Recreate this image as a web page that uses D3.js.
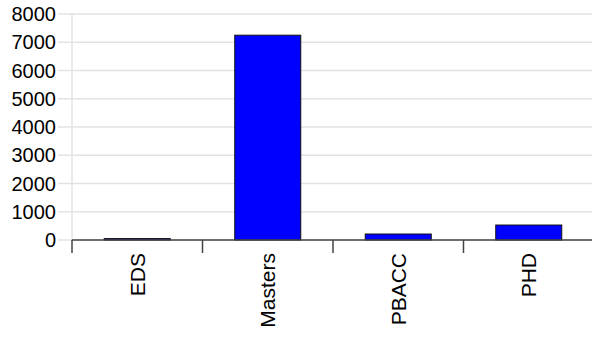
<!DOCTYPE html>
<html><head><meta charset="utf-8">
<script src="https://cdn.jsdelivr.net/npm/d3@7"></script>
<style>body{margin:0;background:#fff}svg{display:block}</style>
</head><body>
<script>
const categories = ["EDS", "Masters", "PBACC", "PHD"];
const values = [50, 7250, 212, 530];
const yTicks = [0, 1000, 2000, 3000, 4000, 5000, 6000, 7000, 8000];

(function () {
const W = 592, H = 337;
const mLeft = 72, mRight = 594, mTop = 14, mBottom = 240;
const svg = d3.select("body").append("svg").attr("width", W).attr("height", H);

const x = d3.scaleBand().domain(categories).range([mLeft, mRight]).paddingInner(0).paddingOuter(0);
const y = d3.scaleLinear().domain([0, 8000]).range([mBottom, mTop]);

// horizontal grid + y ticks
svg.append("g").selectAll("line").data(yTicks).join("line")
  .attr("x1", 58).attr("x2", W)
  .attr("y1", d => y(d)).attr("y2", d => y(d))
  .attr("stroke", "#e3e3e3").attr("stroke-width", 1.5);
// vertical grid line at left
svg.append("line").attr("x1", mLeft).attr("x2", mLeft).attr("y1", y(8000)).attr("y2", mBottom)
  .attr("stroke", "#e3e3e3").attr("stroke-width", 1.5);

svg.append("g").selectAll("text").data(yTicks).join("text")
  .attr("x", 56).attr("y", d => y(d)).attr("dy", "0.35em")
  .attr("text-anchor", "end")
  .style("font-family", "'Liberation Sans', Arial, sans-serif").style("font-size", "20px")
  .attr("fill", "#000").text(d => d);

// bars
const bw = 66;
svg.append("g").selectAll("rect").data(categories).join("rect")
  .attr("x", d => x(d) + (x.bandwidth() - bw) / 2)
  .attr("width", bw)
  .attr("y", (d, i) => y(values[i]))
  .attr("height", (d, i) => mBottom - y(values[i]))
  .attr("fill", "#0000ff").attr("stroke", "#111").attr("stroke-width", 1);

// x axis line
svg.append("line").attr("x1", mLeft).attr("x2", W).attr("y1", mBottom).attr("y2", mBottom)
  .attr("stroke", "#444").attr("stroke-width", 1.5);
// category boundary ticks
svg.append("g").selectAll("line").data(categories).join("line")
  .attr("x1", d => x(d)).attr("x2", d => x(d))
  .attr("y1", mBottom).attr("y2", mBottom + 13)
  .attr("stroke", "#444").attr("stroke-width", 1.5);

// x labels
svg.append("g").selectAll("text").data(categories).join("text")
  .attr("transform", d => `translate(${x(d) + x.bandwidth() / 2},${mBottom + 13}) rotate(-90)`)
  .attr("text-anchor", "end").attr("dy", "0.35em")
  .style("font-family", "'Liberation Sans', Arial, sans-serif").style("font-size", "21px")
  .attr("fill", "#000").text(d => d);
})();
</script>
</body></html>
